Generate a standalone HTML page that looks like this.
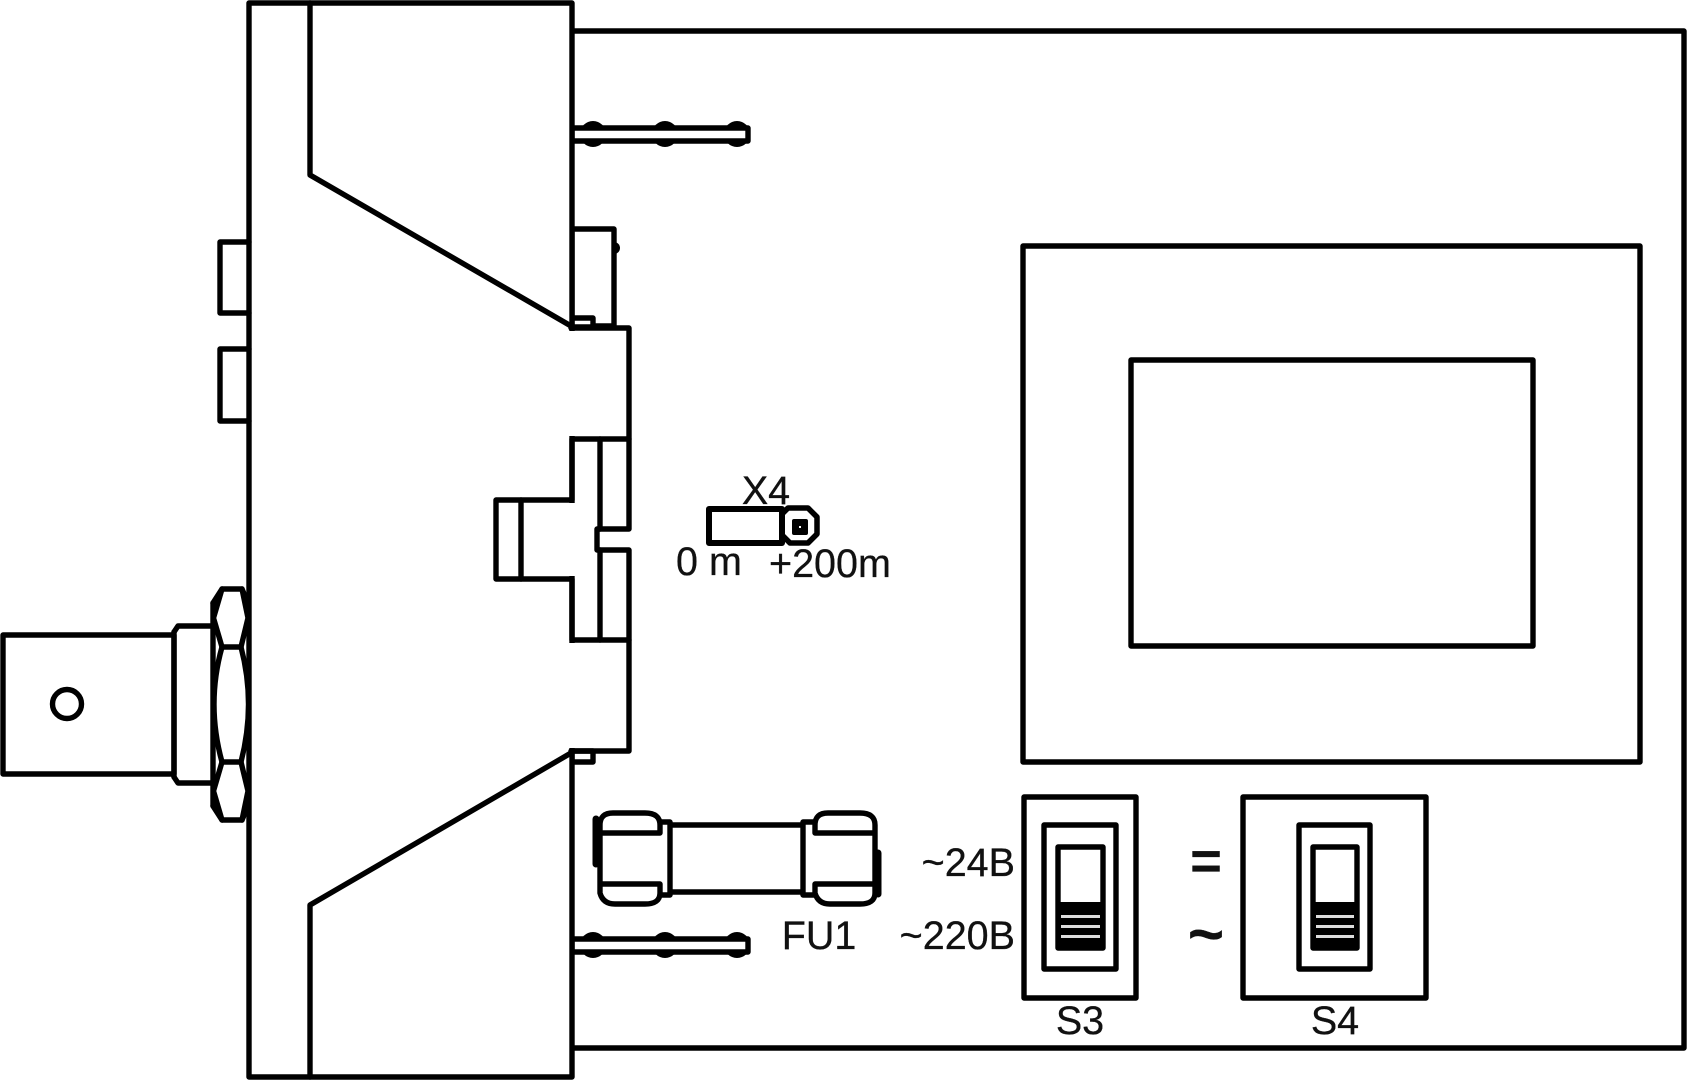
<!DOCTYPE html>
<html><head><meta charset="utf-8"><style>
html,body{margin:0;padding:0;background:#fff;width:1689px;height:1080px;overflow:hidden}
svg{display:block}
text{font-family:"Liberation Sans",sans-serif;fill:#111;font-size:39.5px;stroke:#111;stroke-width:.3}
</style></head><body>
<svg width="1689" height="1080" viewBox="0 0 1689 1080" xmlns="http://www.w3.org/2000/svg">
<g fill="none" stroke="#000" stroke-width="5.4" stroke-linejoin="round" stroke-linecap="round">
<!-- board -->
<path d="M572 31H1684V1048H572"/>
<!-- pins -->
<g fill="#000" stroke="none">
<circle cx="593" cy="134" r="13"/><circle cx="665" cy="134" r="13"/><circle cx="737" cy="134" r="13"/>
<circle cx="593" cy="945" r="13"/><circle cx="665" cy="945" r="13"/><circle cx="737" cy="945" r="13"/>
<circle cx="614" cy="248" r="6"/>
</g>
<rect x="572" y="128" width="176" height="13" fill="#fff"/>
<rect x="572" y="939" width="176" height="13" fill="#fff"/>
<!-- upper block behind -->
<rect x="572" y="229" width="42" height="97" fill="#fff"/>
<rect x="572" y="318" width="21" height="9" fill="#fff"/>
<rect x="572" y="751" width="21" height="11" fill="#fff"/>
<!-- main column -->
<rect x="249" y="3" width="323" height="1074" fill="#fff"/>
<path d="M310 3V175L571 326"/>
<path d="M310 1077V905L571 753"/>
<!-- central block covers -->
<g fill="#fff" stroke="none">
<rect x="568" y="331" width="60" height="105"/>
<rect x="568" y="643" width="60" height="105"/>
<rect x="568" y="503" width="8" height="73"/>
</g>
<path d="M571 328H629V529H597V550H629V751H571"/>
<path d="M572 439H629M572 439V500H496V579H572V640H629"/>
<path d="M521 500V579M600 439V529M600 550V640"/>
<!-- tabs -->
<path d="M249 242H220V313H249M249 349H220V421H249"/>
<!-- connector -->
<rect x="3" y="635" width="171" height="139"/>
<circle cx="67" cy="704" r="14.5"/>
<path d="M174 632L178 626H213M174 777L178 783H213"/>
<path d="M174 632V777"/>
<path d="M213 603V806"/>
<path d="M213 603L222 589H242L248 603M213 806L222 820H242L248 806"/>
<path d="M222 589L213.5 618L222 647H241L248 618L242 589"/>
<path d="M222 647Q206 704 222 762H241Q256 704 241 647"/>
<path d="M222 762L213.5 791L222 820M241 762L248 791L242 820"/>
<!-- LCD -->
<rect x="1023" y="246" width="617" height="516"/>
<rect x="1131" y="360" width="402" height="286"/>
<!-- X4 -->
<rect x="709" y="509" width="73" height="34" stroke-width="6"/>
<path d="M782 514L788 508H808L817 517V534L808 543H790L782 535Z" stroke-width="5.5"/>
<!-- fuse -->
<path d="M660 833H600V825Q600 813 613 813H645Q660 813 660 825ZM660 884H600V893Q603 904 615 904H645Q660 904 660 893ZM600 833V884"/>
<path d="M875 833H815V825Q815 813 828 813H860Q875 813 875 825ZM875 884H815V893Q818 904 830 904H860Q875 904 875 893ZM875 833V884"/>
<path d="M660 822H670V895H660M815 822H803V895H815M670 825H803M670 892H803"/>
<path d="M596 819V864" stroke-width="7"/>
<path d="M878 853V894" stroke-width="7"/>
<!-- S3 -->
<rect x="1024" y="797" width="112" height="201"/>
<rect x="1044" y="825" width="72" height="144"/>
<rect x="1058" y="847" width="45" height="101"/>
<!-- S4 -->
<rect x="1243" y="797" width="183" height="201"/>
<rect x="1299" y="825" width="71" height="144"/>
<rect x="1313" y="847" width="44" height="101"/>
</g>
<g stroke="none">
<rect x="1058" y="902" width="45" height="46" fill="#000"/>
<rect x="1313" y="902" width="44" height="46" fill="#000"/>
<g fill="#ddd">
<rect x="1061" y="915" width="39" height="3"/><rect x="1061" y="925" width="39" height="3"/><rect x="1061" y="935" width="39" height="3"/>
<rect x="1316" y="915" width="38" height="3"/><rect x="1316" y="925" width="38" height="3"/><rect x="1316" y="935" width="38" height="3"/>
</g>
<rect x="792" y="519" width="16" height="16" rx="2" fill="#000"/>
<rect x="799" y="526" width="2" height="2" fill="#fff"/>
</g>
<text x="766" y="504" text-anchor="middle">X4</text>
<text x="676" y="575">0 m</text>
<text x="769" y="577">+200m</text>
<text x="819" y="949" text-anchor="middle">FU1</text>
<text x="1015" y="876" text-anchor="end">~24B</text>
<text x="1015" y="949" text-anchor="end">~220B</text>
<text x="1080" y="1034" text-anchor="middle">S3</text>
<text x="1335" y="1034" text-anchor="middle">S4</text>
<text x="1206" y="879" text-anchor="middle" style="font-size:54px;font-weight:bold">=</text>
<text x="1206" y="955" text-anchor="middle" style="font-size:62px;font-weight:bold">~</text>
</svg>
</body></html>
